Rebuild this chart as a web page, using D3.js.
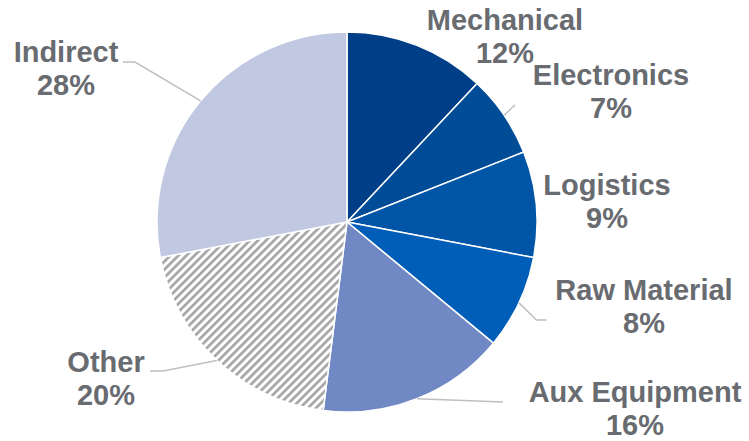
<!DOCTYPE html>
<html>
<head>
<meta charset="utf-8">
<script src="https://cdn.jsdelivr.net/npm/d3@7"></script>
<style>
  html, body { margin: 0; padding: 0; background: #ffffff; }
  svg { display: block; }
  text { font-family: "Liberation Sans", Arial, sans-serif; font-weight: bold; }
</style>
</head>
<body>
<svg id="chart" width="749" height="441"></svg>
<script>
// Cost breakdown by category (share of total, %)
const categories = ["Mechanical", "Electronics", "Logistics", "Raw Material", "Aux Equipment", "Other", "Indirect"];
const shares = [12, 7, 9, 8, 16, 20, 28];
const percentLabels = ["12%", "7%", "9%", "8%", "16%", "20%", "28%"];

// Slice fills; "hatch" marks the striped slice
const fills = ["#003f87", "#004c97", "#0055a7", "#005eb8", "#7089c4", "hatch", "#c0c8e2"];

// Label placement: centre x, first-line baseline y, and leader elbow points (null = no leader)
const labelLayout = [
  { x: 505, y: 30,  leader: null },
  { x: 611, y: 85,  leader: [[515, 105]] },
  { x: 607, y: 195, leader: null },
  { x: 644, y: 300, leader: [[536.5, 320], [546.5, 320]] },
  { x: 635, y: 402, leader: [[503, 402]] },
  { x: 106, y: 372, leader: [[163, 371], [150, 371]] },
  { x: 66,  y: 62,  leader: [[135, 62], [123, 62]] }
];

const cx = 347, cy = 222, radius = 190;
const fontSize = 29, lineGap = 33;

const svg = d3.select("#chart");

// Upward diagonal hatch pattern
const defs = svg.append("defs");
const pat = defs.append("pattern")
  .attr("id", "hatch")
  .attr("patternUnits", "userSpaceOnUse")
  .attr("width", 5.7)
  .attr("height", 5.7)
  .attr("patternTransform", "rotate(45)");
pat.append("rect").attr("width", 5.7).attr("height", 5.7).attr("fill", "#ffffff");
pat.append("rect").attr("x", 0).attr("width", 2.7).attr("height", 5.7).attr("fill", "#a6a6a6");

const data = categories.map((c, i) => ({ name: c, value: shares[i], pct: percentLabels[i], fill: fills[i], layout: labelLayout[i] }));

const pie = d3.pie().value(d => d.value).sort(null);
const arcs = pie(data);
const arcGen = d3.arc().innerRadius(0).outerRadius(radius);

const g = svg.append("g").attr("transform", `translate(${cx},${cy})`);

g.selectAll("path.slice")
  .data(arcs)
  .join("path")
  .attr("class", "slice")
  .attr("d", arcGen)
  .attr("fill", d => d.data.fill === "hatch" ? "url(#hatch)" : d.data.fill)
  .attr("stroke", "#ffffff")
  .attr("stroke-width", 1.5);

// Leader lines from slice edge at mid-angle to label
const line = d3.line();
arcs.forEach(a => {
  const lay = a.data.layout;
  if (!lay.leader) return;
  const mid = (a.startAngle + a.endAngle) / 2;
  const start = [cx + radius * Math.sin(mid), cy - radius * Math.cos(mid)];
  svg.append("path")
    .attr("d", line([start, ...lay.leader]))
    .attr("fill", "none")
    .attr("stroke", "#bfbfbf")
    .attr("stroke-width", 1.5);
});

// Category and percentage labels
arcs.forEach(a => {
  const lay = a.data.layout;
  const t = svg.append("text")
    .attr("text-anchor", "middle")
    .attr("font-size", fontSize)
    .attr("fill", "#686b70");
  t.append("tspan").attr("x", lay.x).attr("y", lay.y).text(a.data.name);
  t.append("tspan").attr("x", lay.x).attr("y", lay.y + lineGap).text(a.data.pct);
});
</script>
</body>
</html>
